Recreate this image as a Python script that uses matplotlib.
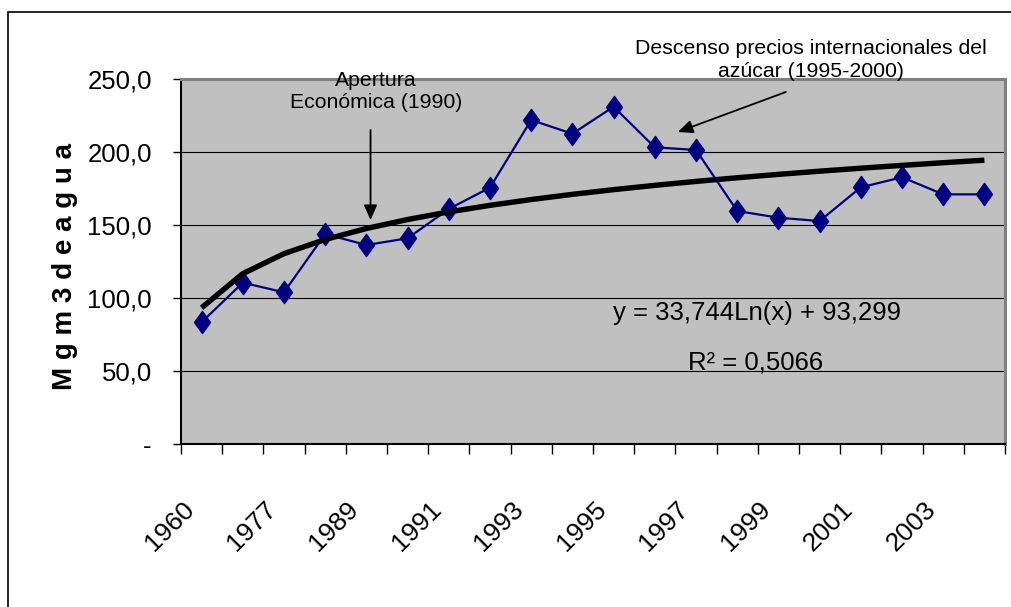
"""Consumo de agua (Mgm3) con línea de tendencia logarítmica, estilo Excel."""

import matplotlib
matplotlib.use("Agg")
import matplotlib.pyplot as plt
import numpy as np
from matplotlib.patches import Rectangle
from matplotlib.path import Path
from matplotlib.transforms import ScaledTranslation

# categorías del eje x (solo se rotulan una de cada dos)
YEARS = ["1960", "1970", "1977", "1985", "1989", "1990", "1991", "1992", "1993", "1994",
         "1995", "1996", "1997", "1998", "1999", "2000", "2001", "2002", "2003", "2004"]
WATER = [83.4, 110.5, 103.9, 143.8, 136.3, 140.9, 161.0, 175.6, 221.9, 212.5,
         231.0, 203.2, 201.4, 159.6, 155.0, 152.7, 175.8, 182.7, 171.0, 171.0]

TREND_SLOPE = 33.744
TREND_INTERCEPT = 93.299
TREND_LABEL = "y = 33,744Ln(x) + 93,299"
R2_LABEL = "R² = 0,5066"

Y_TICKS = [0, 50, 100, 150, 200, 250]
Y_TICK_LABELS = ["-", "50,0", "100,0", "150,0", "200,0", "250,0"]

FONT = ["Liberation Sans", "DejaVu Sans"]

fig = plt.figure(figsize=(10.11, 6.07), dpi=100)
ax = fig.add_axes([181 / 1011, 1 - 444 / 607, 824 / 1011, 365 / 607])
ax.set_facecolor("#C0C0C0")

x = np.arange(len(YEARS))
trend = TREND_SLOPE * np.log(x + 1) + TREND_INTERCEPT

ax.set_axisbelow(True)
ax.grid(axis="y", color="black", linewidth=0.8)

diamond = Path([(0, 1), (0.72, 0), (0, -1), (-0.72, 0), (0, 1)],
               [Path.MOVETO, Path.LINETO, Path.LINETO, Path.LINETO, Path.CLOSEPOLY])
ax.plot(x, WATER, color="#000080", linewidth=1.6, marker=diamond,
        markersize=16, markerfacecolor="#000080", markeredgecolor="#000080", zorder=3)
ax.plot(x, trend, color="black", linewidth=3.9, solid_capstyle="butt", zorder=4)

ax.set_xlim(-0.5, len(YEARS) - 0.5)
ax.set_ylim(0, 250)

# eje y
ax.set_yticks(Y_TICKS)
ax.set_yticklabels(Y_TICK_LABELS, family=FONT, fontsize=18.5)
ax.tick_params(axis="y", direction="out", length=6, width=1, pad=15)

# eje x: marcas entre categorías, rótulos en una de cada dos
ax.set_xticks(np.arange(len(YEARS) + 1) - 0.5)
ax.set_xticklabels([])
ax.tick_params(axis="x", which="major", direction="out", length=7, width=1)
ax.set_xticks(x[::2], minor=True)
ax.set_xticklabels(YEARS[::2], minor=True, rotation=45, ha="right", va="top",
                   family=FONT, fontsize=19)
ax.tick_params(axis="x", which="minor", length=0, pad=38)
shift = ScaledTranslation(-3 / 100, 0, fig.dpi_scale_trans)
for lab in ax.get_xticklabels(minor=True):
    lab.set_transform(lab.get_transform() + shift)

ax.set_ylabel("M g m 3 d e a g u a", family=FONT, fontsize=20, fontweight="bold")
ax.yaxis.set_label_coords(-0.125, 0.485)

for side in ("left", "bottom"):
    ax.spines[side].set_color("black")
    ax.spines[side].set_linewidth(1.5)
for side in ("top", "right"):
    ax.spines[side].set_color("#808080")
    ax.spines[side].set_linewidth(2.2)

# ecuación de la tendencia
ax.text(13.48, 89.7, TREND_LABEL, family=FONT, fontsize=18.5,
        ha="center", va="center", zorder=5)
ax.text(13.45, 56.0, R2_LABEL, family=FONT, fontsize=18.5,
        ha="center", va="center", zorder=5)

# anotaciones
arrow = dict(arrowstyle="-|>,head_length=0.9,head_width=0.4", color="black",
             linewidth=1.3, shrinkA=0, shrinkB=0)
ax.text(4.23, 241.5, "Apertura\nEconómica (1990)", ha="center", va="center",
        fontsize=15.3, family=FONT, linespacing=1.25, clip_on=False, zorder=6)
ax.annotate("", xy=(4.1, 153.4), xytext=(4.1, 215.1),
            annotation_clip=False, zorder=6, arrowprops=arrow)
ax.annotate("", xy=(11.56, 213.7), xytext=(14.18, 241.1),
            annotation_clip=False, zorder=6, arrowprops=arrow)
ax.text(14.78, 263.0, "Descenso precios internacionales del\nazúcar (1995-2000)",
        ha="center", va="center", fontsize=15.3, family=FONT,
        linespacing=1.25, clip_on=False, zorder=6)

# marco del área del gráfico
fig.patches.append(Rectangle((8 / 1011, -0.1), 1.2, (607 - 12) / 607 + 0.1,
                             transform=fig.transFigure, fill=False,
                             edgecolor="black", linewidth=1.2))

fig.savefig("out.png", dpi=100)
